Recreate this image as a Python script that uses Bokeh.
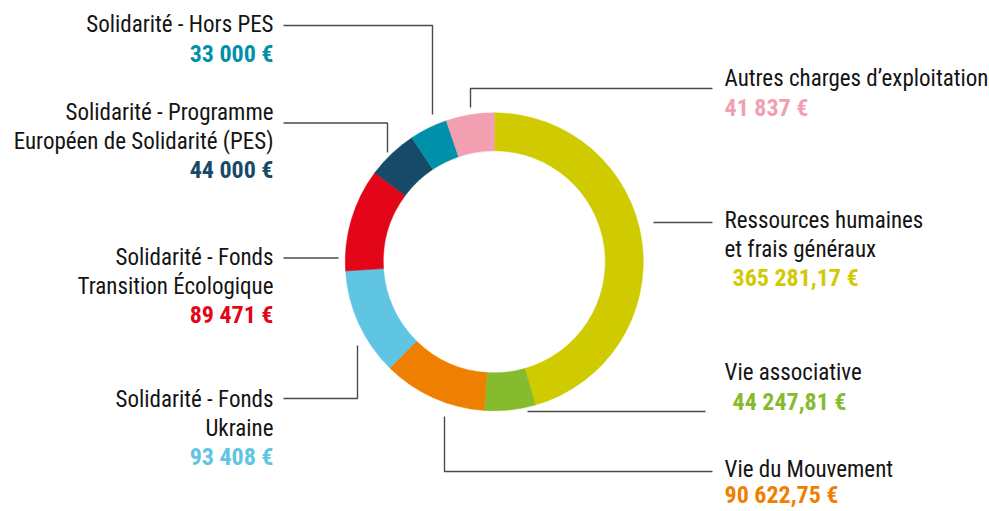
import math
from bokeh.plotting import figure
from bokeh.models import Range1d, ColumnDataSource
from bokeh.core.properties import value
from bokeh.embed import file_html
from bokeh.resources import INLINE

# ---------------- data ----------------
categories = [
    "Ressources humaines\net frais généraux",
    "Vie associative",
    "Vie du Mouvement",
    "Solidarité - Fonds\nUkraine",
    "Solidarité - Fonds\nTransition Écologique",
    "Solidarité - Programme\nEuropéen de Solidarité (PES)",
    "Solidarité - Hors PES",
    "Autres charges d’exploitation",
]
amounts = [365281.17, 44247.81, 90622.75, 93408, 89471, 44000, 33000, 41837]
amount_labels = ["365 281,17 €", "44 247,81 €", "90 622,75 €", "93 408 €",
                 "89 471 €", "44 000 €", "33 000 €", "41 837 €"]
colors = ["#d0ca00", "#86bb2d", "#ef7f00", "#60c4e3", "#e30618", "#174a68", "#0090aa", "#f29fb1"]

# ---------------- layout (page pixel coordinates) ----------------
W, H = 989, 511
def Y(yp):
    return H - yp

TEXT_SHIFT = 8  # compensate rendered baseline offset

CX, CY = 493.8, 261.3
R_OUT, R_IN = 149, 111

# label anchor: (x, first baseline, align, value x offset)
label_layout = [
    (724, 228, "left", 8),
    (724, 380, "left", 8),
    (724, 477, "left", 0),
    (273, 407, "right", 0),
    (273, 265, "right", 0),
    (273, 120, "right", 0),
    (273, 32, "right", 0),
    (724, 86, "left", 0),
]
LINE_STEP = 28.8
value_steps = [28.5, 29.5, 25.5, 28.5, 28.5, 28.5, 29.5, 29]

leaders = [
    [(653, 222), (712, 222)],
    [(527, 411), (705, 411)],
    [(444, 416), (444, 471), (712, 471)],
    [(283, 398), (357, 398), (357, 345)],
    [(283, 257.5), (338, 257.5)],
    [(283, 122.5), (387, 122.5), (387, 152)],
    [(283, 25), (432, 25), (432, 114)],
    [(470, 107), (470, 88), (712, 88)],
]

FONT = "Roboto Condensed"

p = figure(width=W, height=H, output_backend="svg", toolbar_location=None,
           x_range=Range1d(0, W), y_range=Range1d(0, H),
           x_axis_location=None, y_axis_location=None, min_border=0,
           background_fill_color="white", border_fill_color="white")
p.grid.visible = False
p.outline_line_color = None

# donut slices
total = sum(amounts)
starts, ends = [], []
cum = 0.0
for a in amounts:
    starts.append(math.pi / 2 - 2 * math.pi * cum / total)
    cum += a
    ends.append(math.pi / 2 - 2 * math.pi * cum / total)
src = ColumnDataSource(dict(start=starts, end=ends, color=colors))
p.annular_wedge(x=CX, y=Y(CY), inner_radius=R_IN, outer_radius=R_OUT,
                start_angle="start", end_angle="end", direction="clock",
                fill_color="color", line_color="color", line_width=0.5, source=src)

# leader lines
p.multi_line(xs=[[pt[0] for pt in l] for l in leaders],
             ys=[[Y(pt[1]) for pt in l] for l in leaders],
             line_color="#4a4a4a", line_width=1.4)

# labels
nx, ny, nt, na = [], [], [], []
vx, vy, vt, va, vc = [], [], [], [], []
for cat, lab, col, (x, y0, al, off), vs in zip(categories, amount_labels, colors, label_layout, value_steps):
    lines = cat.split("\n")
    for i, ln in enumerate(lines):
        nx.append(x); ny.append(Y(y0 + i * LINE_STEP - TEXT_SHIFT)); nt.append(ln); na.append(al)
    vx.append(x + off); vy.append(Y(y0 + (len(lines) - 1) * LINE_STEP + vs - TEXT_SHIFT))
    vt.append(lab); va.append(al); vc.append(col)

p.text(x=nx, y=ny, text=nt, text_align=na, text_baseline="alphabetic",
       text_font=value(FONT), text_font_size="23px", text_color="#141414")
p.text(x=vx, y=vy, text=vt, text_align=va, text_baseline="alphabetic",
       text_font=value(FONT), text_font_size="24px", text_font_style="bold",
       text_color=vc)

open("out.html", "w").write(file_html(p, INLINE))
